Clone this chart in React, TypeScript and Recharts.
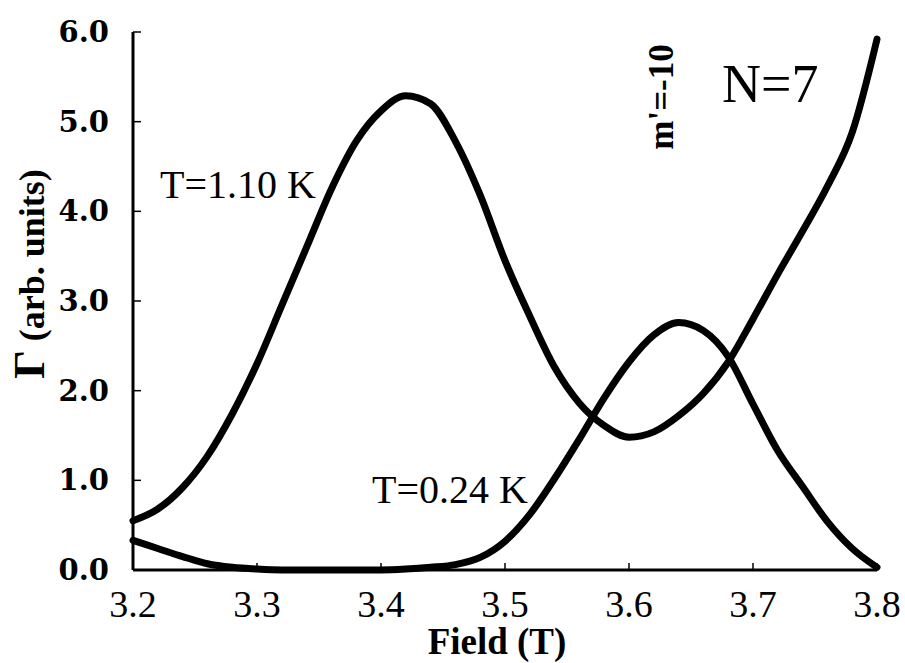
import { Line, LineChart, XAxis, YAxis } from "recharts";

const fields = [
  3.2, 3.22, 3.24, 3.26, 3.28, 3.3, 3.32, 3.34, 3.36, 3.38, 3.4, 3.42, 3.44, 3.46, 3.48, 3.5,
  3.52, 3.54, 3.56, 3.58, 3.6, 3.62, 3.64, 3.66, 3.68, 3.7, 3.72, 3.74, 3.76, 3.78, 3.8,
];
// T = 1.10 K
const gammaHot = [
  0.55, 0.68, 0.92, 1.27, 1.74, 2.3, 2.95, 3.6, 4.25, 4.78, 5.12, 5.29, 5.2, 4.78, 4.18, 3.45,
  2.83, 2.26, 1.86, 1.61, 1.48, 1.54, 1.72, 1.97, 2.32, 2.8, 3.3, 3.78, 4.28, 4.88, 5.92,
];
// T = 0.24 K
const gammaCold = [
  0.33, 0.24, 0.15, 0.07, 0.03, 0.01, 0.0, 0.0, 0.0, 0.0, 0.0, 0.01, 0.03, 0.06, 0.14, 0.32,
  0.62, 1.02, 1.46, 1.92, 2.32, 2.62, 2.76, 2.67, 2.38, 1.85, 1.33, 0.93, 0.54, 0.24, 0.03,
];
const xTicks = [3.2, 3.3, 3.4, 3.5, 3.6, 3.7, 3.8];
const yTicks = [0, 1, 2, 3, 4, 5, 6];

const data = fields.map((f, i) => ({ field: f, hot: gammaHot[i], cold: gammaCold[i] }));

const serif = "'Liberation Serif', 'Times New Roman', serif";

function BottomTick({ x, y, payload }: any) {
  return (
    <g>
      <line x1={x} x2={x} y1={y} y2={y - 7} stroke="#000" strokeWidth={1.5} />
      <text x={x} y={y + 47} textAnchor="middle" fontFamily={serif} fontSize={38} fill="#000">
        {payload.value.toFixed(1)}
      </text>
    </g>
  );
}

function TopTick({ x, y }: any) {
  return <line x1={x} x2={x} y1={y} y2={y + 7} stroke="#000" strokeWidth={1.5} />;
}

function LeftTick({ x, y, payload }: any) {
  return (
    <g>
      <line x1={x} x2={x + 8} y1={y} y2={y} stroke="#000" strokeWidth={1.5} />
      <text
        x={x - 24}
        y={y + 10}
        textAnchor="end"
        fontFamily="'DejaVu Serif', serif"
        fontWeight="bold"
        fontSize={29}
        fill="#000"
      >
        {payload.value.toFixed(1)}
      </text>
    </g>
  );
}

function RightTick({ x, y }: any) {
  return <line x1={x} x2={x - 8} y1={y} y2={y} stroke="#000" strokeWidth={1.5} />;
}

export default function App() {
  return (
    <div style={{ position: "absolute", left: 0, top: 0, width: 905, height: 663, background: "#fff" }}>
      <LineChart width={905} height={663} data={data} margin={{ top: 32, right: 28, left: 0, bottom: 0 }}>
        <XAxis
          xAxisId="b"
          dataKey="field"
          type="number"
          domain={[3.2, 3.8]}
          ticks={xTicks}
          height={93}
          tickSize={0}
          tickMargin={0}
          tick={<BottomTick />}
          axisLine={{ stroke: "#000", strokeWidth: 3 }}
          tickLine={false}
        />
        <XAxis
          xAxisId="t"
          orientation="top"
          dataKey="field"
          type="number"
          domain={[3.2, 3.8]}
          ticks={xTicks}
          height={0}
          tickSize={0}
          tickMargin={0}
          tick={<TopTick />}
          axisLine={{ stroke: "#000", strokeWidth: 3 }}
          tickLine={false}
        />
        <YAxis
          yAxisId="l"
          domain={[0, 6]}
          ticks={yTicks}
          width={133}
          tickSize={0}
          tickMargin={0}
          tick={<LeftTick />}
          axisLine={{ stroke: "#000", strokeWidth: 3 }}
          tickLine={false}
        />
        <YAxis
          yAxisId="r"
          orientation="right"
          domain={[0, 6]}
          ticks={yTicks}
          width={0}
          tickSize={0}
          tickMargin={0}
          tick={<RightTick />}
          axisLine={{ stroke: "#000", strokeWidth: 3 }}
          tickLine={false}
        />
        <Line
          xAxisId="b"
          yAxisId="l"
          type="monotone"
          dataKey="hot"
          stroke="#000"
          strokeWidth={7}
          strokeLinecap="round"
          dot={false}
          isAnimationActive={false}
        />
        <Line
          xAxisId="b"
          yAxisId="l"
          type="monotone"
          dataKey="cold"
          stroke="#000"
          strokeWidth={7}
          strokeLinecap="round"
          dot={false}
          isAnimationActive={false}
        />
        <text x={160} y={198} fontFamily={serif} fontSize={40} fill="#000">
          T=1.10 K
        </text>
        <text x={372} y={503} fontFamily={serif} fontSize={40} fill="#000">
          T=0.24 K
        </text>
        <text x={722} y={102} fontFamily={serif} fontSize={54} fill="#000">
          N=7
        </text>
        <text
          transform="translate(673,97) rotate(-90)"
          textAnchor="middle"
          fontFamily={serif}
          fontWeight="bold"
          fontSize={35}
          fill="#000"
        >
          m'=-10
        </text>
        <text
          transform="translate(44,274) rotate(-90)"
          textAnchor="middle"
          fontFamily={serif}
          fontWeight="bold"
          fontSize={36}
          fill="#000"
        >
          <tspan fontSize={45}>Γ</tspan> (arb. units)
        </text>
        <text x={497} y={654} textAnchor="middle" fontFamily={serif} fontWeight="bold" fontSize={37} fill="#000">
          Field (T)
        </text>
      </LineChart>
    </div>
  );
}
